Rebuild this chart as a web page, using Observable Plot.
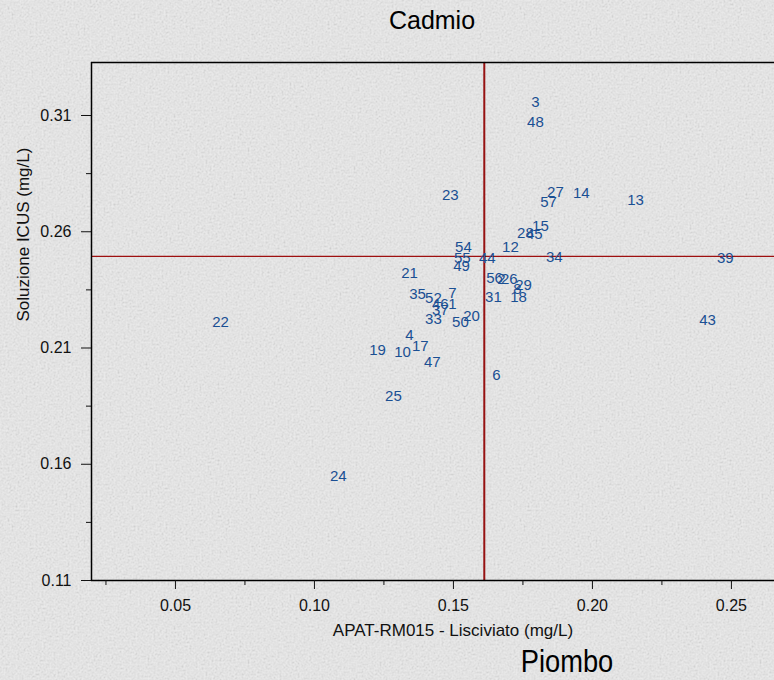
<!DOCTYPE html>
<html><head><meta charset="utf-8">
<script src="https://cdn.jsdelivr.net/npm/d3@7"></script>
<script src="https://cdn.jsdelivr.net/npm/@observablehq/plot@0.6"></script>
<style>
html,body{margin:0;padding:0;width:774px;height:680px;overflow:hidden;}
body{font-family:"Liberation Sans",Arial,sans-serif;
background-color:#e6e6e6;
background-image:url("data:image/svg+xml,%3Csvg xmlns='http://www.w3.org/2000/svg' width='774' height='680'%3E%3Cfilter id='n'%3E%3CfeTurbulence type='fractalNoise' baseFrequency='0.5' numOctaves='3' seed='7'/%3E%3CfeColorMatrix type='saturate' values='0'/%3E%3C/filter%3E%3Crect width='100%25' height='100%25' fill='%23ececec'/%3E%3Crect width='100%25' height='100%25' filter='url(%23n)' opacity='0.38'/%3E%3C/svg%3E");}
.band{position:relative;width:774px;}
.band span{position:absolute;white-space:nowrap;color:#000;}
svg{display:block;}
</style></head><body>
<div class="band" style="height:40px"><span style="left:432px;top:20px;font-size:25px;transform:translate(-50%,-50%)">Cadmio</span></div>
<div id="chart"></div>
<div class="band" style="height:32px"><span style="left:567px;top:14px;font-size:31px;transform:translate(-50%,-50%) scaleX(0.88)">Piombo</span></div>
<script>
const labels = ["3","48","23","27","14","13","57","15","28","45","12","54","55","49","44","34","39","21","56","2","26","29","8","31","18","35","52","7","46","1","37","33","50","20","22","43","4","19","10","17","47","6","25","24"];
const piombo = [0.1795,0.1795,0.1489,0.1867,0.1960,0.2155,0.1842,0.1813,0.1759,0.1791,0.1705,0.1536,0.1532,0.1529,0.1622,0.1863,0.2478,0.1342,0.1648,0.1673,0.1701,0.1752,0.1730,0.1644,0.1734,0.1371,0.1428,0.1496,0.1453,0.1496,0.1453,0.1428,0.1525,0.1565,0.0662,0.2414,0.1342,0.1227,0.1317,0.1381,0.1424,0.1655,0.1284,0.1086];
const cadmio = [0.3156,0.3070,0.2756,0.2769,0.2765,0.2734,0.2726,0.2623,0.2592,0.2588,0.2532,0.2532,0.2485,0.2451,0.2485,0.2489,0.2485,0.2420,0.2399,0.2395,0.2395,0.2369,0.2352,0.2317,0.2317,0.2330,0.2313,0.2334,0.2287,0.2287,0.2261,0.2223,0.2210,0.2235,0.2210,0.2218,0.2154,0.2089,0.2081,0.2106,0.2038,0.1982,0.1891,0.1547];
const xTicks = [0.05,0.10,0.15,0.20,0.25];
const xMinorTicks = [0.025,0.075,0.125,0.175,0.225];
const yTicks = [0.11,0.16,0.21,0.26,0.31];
const yMinorTicks = [0.135,0.185,0.235,0.285];
const xDomain = [0.0198,0.2655];
const yDomain = [0.11,0.3328];
const refX = 0.1611, refY = 0.2494;
const xTitle = "APAT-RM015 - Lisciviato (mg/L)";
const yTitle = "Soluzione ICUS (mg/L)";

const data = labels.map((l,i)=>({label:l,x:piombo[i],y:cadmio[i]}));
const fmt = d3.format(".2f");
const plot = Plot.plot({
  width:774, height:608,
  marginLeft:91, marginRight:0, marginTop:22, marginBottom:68,
  style:{background:"transparent", fontFamily:"'Liberation Sans',Arial,sans-serif", fontSize:"16px", color:"#111"},
  x:{domain:xDomain},
  y:{domain:yDomain},
  marks:[
    Plot.ruleX([refX],{stroke:"#961212",strokeWidth:2}),
    Plot.ruleY([refY],{stroke:"#9e1010",strokeWidth:1.3}),
    Plot.ruleX([xDomain[0]],{stroke:"#000",strokeWidth:1.5}),
    Plot.ruleY([yDomain[0]],{stroke:"#000",strokeWidth:1.5}),
    Plot.ruleY([yDomain[1]],{stroke:"#000",strokeWidth:1.5}),
    Plot.axisX(xTicks,{tickSize:9,tickPadding:10,tickFormat:fmt,label:null,fontSize:16}),
    Plot.axisX(xMinorTicks,{tickSize:5,tickFormat:()=>"",label:null}),
    Plot.axisY(yTicks,{tickSize:10,tickPadding:10,tickFormat:fmt,label:null,fontSize:16}),
    Plot.axisY(yMinorTicks,{tickSize:5,tickFormat:()=>"",label:null}),
    Plot.text(data,{x:"x",y:"y",text:"label",fill:"#1a4f93",fontSize:15}),
    Plot.text([xTitle],{frameAnchor:"bottom",dy:55,dx:20,fontSize:17,fill:"#111"}),
    Plot.text([yTitle],{frameAnchor:"left",dx:-68,rotate:-90,fontSize:17,fill:"#111"})
  ]
});
document.getElementById("chart").appendChild(plot);
</script>
</body></html>
